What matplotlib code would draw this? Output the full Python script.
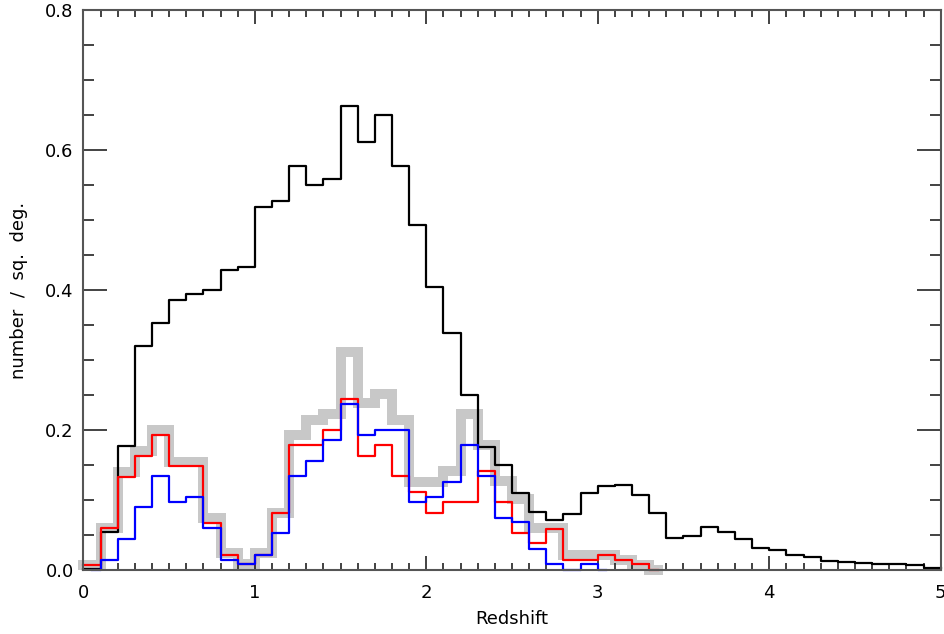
import numpy as np
import matplotlib
matplotlib.use("Agg")
import matplotlib.pyplot as plt
from matplotlib.ticker import MultipleLocator

# bin width 0.1 in redshift
dz = 0.1

# black: all sources, bins 0.0 .. 4.9
n_all = [0.002, 0.055, 0.177, 0.320, 0.353, 0.386, 0.394, 0.400, 0.429, 0.433,
         0.519, 0.527, 0.577, 0.550, 0.558, 0.663, 0.611, 0.650, 0.577, 0.493,
         0.404, 0.339, 0.250, 0.176, 0.150, 0.110, 0.083, 0.072, 0.080, 0.110,
         0.120, 0.122, 0.107, 0.081, 0.046, 0.049, 0.062, 0.055, 0.045, 0.032,
         0.029, 0.022, 0.018, 0.013, 0.011, 0.010, 0.009, 0.0086, 0.0067, 0.003]

# thick grey, bins 0.0 .. 3.3
n_gray = [0.007, 0.060, 0.140, 0.170, 0.200, 0.155, 0.155, 0.075, 0.024, 0.008,
          0.024, 0.082, 0.193, 0.215, 0.223, 0.311, 0.238, 0.252, 0.215, 0.126,
          0.126, 0.141, 0.223, 0.179, 0.127, 0.101, 0.060, 0.060, 0.022, 0.022,
          0.022, 0.015, 0.007, 0.0]

# red, bins 0.0 .. 3.3
n_red = [0.007, 0.060, 0.133, 0.163, 0.193, 0.148, 0.148, 0.067, 0.022, 0.008,
         0.022, 0.082, 0.178, 0.178, 0.200, 0.244, 0.163, 0.178, 0.134, 0.111,
         0.082, 0.097, 0.097, 0.141, 0.097, 0.053, 0.038, 0.059, 0.015, 0.015,
         0.022, 0.015, 0.008, 0.0]

# blue, bins 0.0 .. 3.0
n_blue = [0.0, 0.015, 0.045, 0.090, 0.134, 0.097, 0.105, 0.060, 0.015, 0.008,
          0.022, 0.053, 0.134, 0.156, 0.186, 0.237, 0.193, 0.200, 0.200, 0.097,
          0.104, 0.126, 0.178, 0.134, 0.075, 0.068, 0.030, 0.008, 0.0, 0.008,
          0.0]

xtick_labels = ["0", "1", "2", "3", "4", "5"]


def steps(vals, x0, x1):
    # histogram outline, first and last bins cut at x0 / x1 (like idl psym=10)
    vals = np.asarray(vals, float)
    edges = np.arange(len(vals) + 1) * dz
    xs = np.repeat(edges, 2)[1:-1]
    ys = np.repeat(vals, 2)
    xs = np.clip(xs, x0, x1)
    return xs, ys


fig = plt.figure(figsize=(9.44, 6.34), dpi=100)
ax = fig.add_axes([0.0883, 0.1009, 0.9082, 0.8833])

x, y = steps(n_gray, 0.0, 3.35)
ax.plot(x, y, color="#c8c8c8", lw=7.2, solid_joinstyle="miter", clip_on=False, zorder=1)
x, y = steps(n_all, 0.0, 5.0)
ax.plot(x, y, color="black", lw=1.6, clip_on=False, zorder=2)
x, y = steps(n_red, 0.0, 3.35)
ax.plot(x, y, color="#ff0000", lw=1.6, clip_on=False, zorder=3)
x, y = steps(n_blue, 0.05, 3.05)
ax.plot(x, y, color="#0000ff", lw=1.6, clip_on=False, zorder=4)

ax.set_xlim(0, 5)
ax.set_ylim(0, 0.8)
ax.set_xticks(range(6))
ax.set_xticklabels(xtick_labels)
ax.set_yticks([0, 0.2, 0.4, 0.6, 0.8])
ax.set_yticklabels(["0.0", "0.2", "0.4", "0.6", "0.8"])
ax.xaxis.set_minor_locator(MultipleLocator(0.1))
ax.yaxis.set_minor_locator(MultipleLocator(0.05))

ax.tick_params(axis="x", which="major", direction="in", length=10, width=1.2,
               top=True, bottom=True, labelsize=13, pad=10, color="#222")
ax.tick_params(axis="x", which="minor", direction="in", length=5, width=1.2,
               top=True, bottom=True, color="#222")
ax.tick_params(axis="y", which="major", direction="in", length=17, width=1.2,
               left=True, right=True, labelsize=13, pad=7, color="#222")
ax.tick_params(axis="y", which="minor", direction="in", length=8, width=1.2,
               left=True, right=True, color="#222")
for s in ax.spines.values():
    s.set_color("#555555")
    s.set_linewidth(1.5)
    s.set_zorder(5)

ax.set_xlabel("Redshift", fontsize=13, labelpad=6)
ax.set_ylabel("number  /  sq.  deg.", fontsize=13, labelpad=12)

fig.savefig("out.png", dpi=100)
